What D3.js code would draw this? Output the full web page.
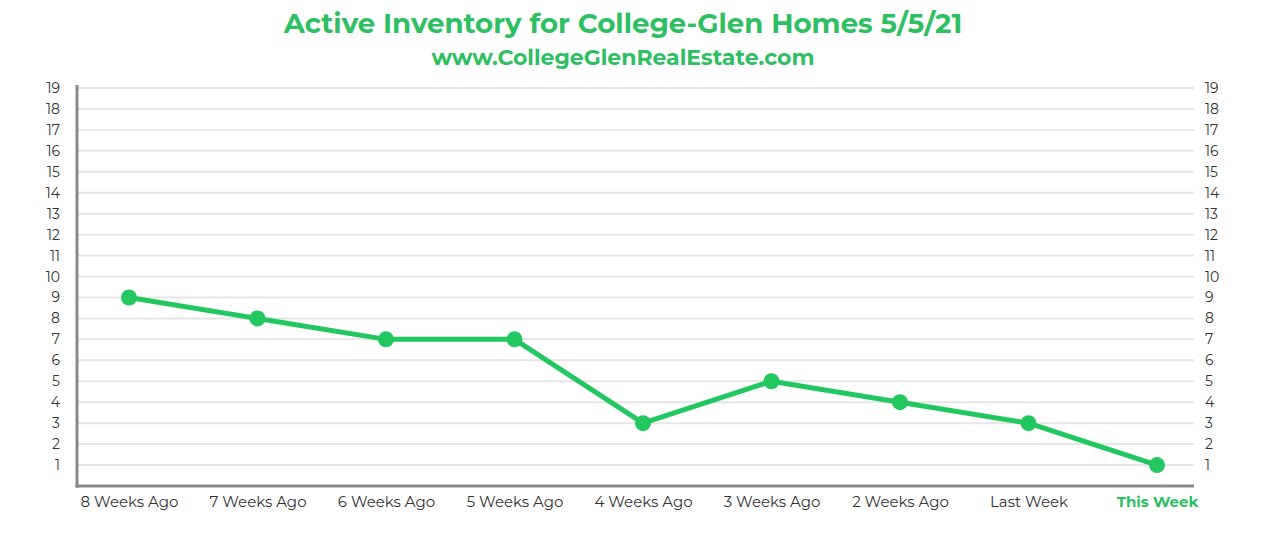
<!DOCTYPE html>
<html><head><meta charset="utf-8">
<script src="https://cdn.jsdelivr.net/npm/d3@7"></script>
<style>body{margin:0;background:#fff}svg{display:block}</style>
</head><body>
<svg id="c" width="1265" height="536"></svg>
<script>
const categories = ["8 Weeks Ago","7 Weeks Ago","6 Weeks Ago","5 Weeks Ago","4 Weeks Ago","3 Weeks Ago","2 Weeks Ago","Last Week","This Week"];
const values = [9, 8, 7, 7, 3, 5, 4, 3, 1];
const yTicks = d3.range(1, 20);
const title = "Active Inventory for College-Glen Homes 5/5/21";
const subtitle = "www.CollegeGlenRealEstate.com";

const green = "#22c760", titleGreen = "#2dbf62", axisGray = "#8a8a8a", gridGray = "#e6e6e6", textCol = "#333";
const font = "Montserrat, 'Open Sans', Lato, sans-serif";
const svg = d3.select("#c");
const x = d3.scalePoint().domain(categories).range([129, 1157]);
const y = d3.scaleLinear().domain([0, 19]).range([486, 88]);
const left = 77, right = 1194;

function fit(sel, w){ const l = sel.node().getComputedTextLength(); const fs = parseFloat(sel.attr("font-size")); sel.attr("font-size", fs * w / l); }

const t = svg.append("text").attr("x", 623).attr("y", 33).attr("text-anchor","middle").attr("font-family",font).attr("font-weight",700).attr("font-size",26).attr("fill",titleGreen).text(title);
fit(t, 679);
const s = svg.append("text").attr("x", 623).attr("y", 65).attr("text-anchor","middle").attr("font-family",font).attr("font-weight",700).attr("font-size",19).attr("fill",titleGreen).text(subtitle);
fit(s, 383);

// grid
svg.append("g").selectAll("line").data(yTicks).join("line")
  .attr("x1", left).attr("x2", right).attr("y1", d=>y(d)).attr("y2", d=>y(d))
  .attr("stroke", gridGray).attr("stroke-width", 2);

// left axis labels
const yl = d3.axisLeft(y).tickValues(yTicks).tickSize(0).tickPadding(17);
const gl = svg.append("g").attr("transform",`translate(${left},0)`).call(yl);
gl.select(".domain").remove();
gl.selectAll("text").attr("font-family",font).attr("font-size",14).attr("fill",textCol);
const yr = d3.axisRight(y).tickValues(yTicks).tickSize(0).tickPadding(11);
const gr = svg.append("g").attr("transform",`translate(${right},0)`).call(yr);
gr.select(".domain").remove();
gr.selectAll("text").attr("font-family",font).attr("font-size",14).attr("fill",textCol);

// axes lines
svg.append("line").attr("x1",left).attr("x2",left).attr("y1",85).attr("y2",y(0)+1.5).attr("stroke",axisGray).attr("stroke-width",3);
svg.append("line").attr("x1",left-1.5).attr("x2",right).attr("y1",y(0)).attr("y2",y(0)).attr("stroke",axisGray).attr("stroke-width",3);

// x labels
const xa = d3.axisBottom(x).tickSize(0).tickPadding(10);
const gx = svg.append("g").attr("transform",`translate(0,${y(0)})`).call(xa);
gx.select(".domain").remove();
gx.selectAll("text").attr("font-family",font).attr("font-size",15).attr("fill",textCol)
  .attr("font-weight", d => d === "This Week" ? 700 : 400)
  .attr("fill", d => d === "This Week" ? titleGreen : textCol);

// line
const data = categories.map((c,i)=>({c, v: values[i]}));
svg.append("path").datum(data).attr("fill","none").attr("stroke",green).attr("stroke-width",5).attr("stroke-linejoin","round")
  .attr("d", d3.line().x(d=>x(d.c)).y(d=>y(d.v)));
svg.append("g").selectAll("circle").data(data).join("circle")
  .attr("cx", d=>x(d.c)).attr("cy", d=>y(d.v)).attr("r", 8).attr("fill", green);
</script>
</body></html>
